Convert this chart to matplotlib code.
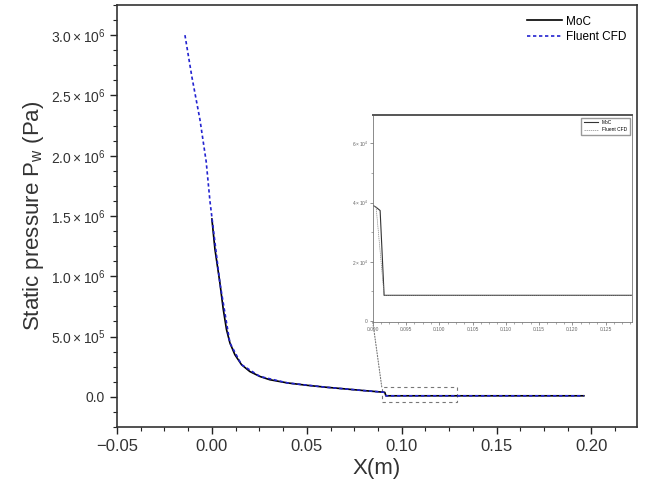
import matplotlib
matplotlib.use("Agg")
import matplotlib.pyplot as plt
from matplotlib.ticker import FuncFormatter, AutoMinorLocator
from matplotlib.patches import Rectangle, ConnectionPatch

plt.rcParams['font.family'] = ['Liberation Sans', 'DejaVu Sans']
plt.rcParams['mathtext.fontset'] = 'custom'
plt.rcParams['mathtext.rm'] = 'Liberation Sans'
plt.rcParams['mathtext.it'] = 'Liberation Sans:italic'
plt.rcParams['mathtext.bf'] = 'Liberation Sans:bold'

# ---- data ----
moc_x = [0.0, 0.0016, 0.0042, 0.006, 0.0077, 0.0095, 0.0121, 0.0156, 0.020, 0.0253,
         0.0305, 0.040, 0.050, 0.060, 0.070, 0.080, 0.0905, 0.0911, 0.0917, 0.120, 0.160, 0.196]
moc_y = [1.475e6, 1.225e6, 0.947e6, 0.725e6, 0.558e6, 0.447e6, 0.350e6, 0.267e6, 0.210e6, 0.169e6,
         0.142e6, 0.115e6, 0.096e6, 0.080e6, 0.066e6, 0.052e6, 0.0384e6, 0.0373e6, 0.0087e6, 0.0087e6, 0.0087e6, 0.0087e6]

cfd_x = [-0.0142, -0.0105, -0.0063, -0.003, -0.001, 0.0, 0.0042, 0.0095, 0.0156, 0.0253,
         0.040, 0.060, 0.080, 0.0905, 0.0917, 0.196]
cfd_y = [3.0e6, 2.65e6, 2.30e6, 1.95e6, 1.62e6, 1.49e6, 0.947e6, 0.447e6, 0.267e6, 0.169e6,
         0.115e6, 0.080e6, 0.052e6, 0.0384e6, 0.0087e6, 0.0087e6]

x_ticks = [-0.05, 0.00, 0.05, 0.10, 0.15, 0.20]
y_ticks = [0.0, 0.5e6, 1.0e6, 1.5e6, 2.0e6, 2.5e6, 3.0e6]
inset_x_ticks = [0.090, 0.095, 0.100, 0.105, 0.110, 0.115, 0.120, 0.125]
inset_y_ticks = [0, 2e4, 4e4, 6e4]
zoom_box = (0.0895, -4.0e4, 0.129, 8.3e4)  # x0, y0, x1, y1

moc_color = 'black'
cfd_color = '#2323d0'


def sci_fmt(v, pos):
    if v == 0:
        return '0.0'
    exp = 0
    m = abs(v)
    while m >= 10:
        m /= 10.0
        exp += 1
    s = '-' if v < 0 else ''
    return r'$%s%.1f\times10^{%d}$' % (s, m, exp)


def sci_fmt_int(v, pos):
    if v == 0:
        return '0'
    exp = 0
    m = abs(v)
    while m >= 10:
        m /= 10.0
        exp += 1
    return r'$%d\times10^{%d}$' % (round(m), exp)


fig = plt.figure(figsize=(6.45, 4.95), dpi=100)
ax = fig.add_axes([0.1814, 0.1374, 0.8062, 0.8525])

ax.plot(moc_x, moc_y, color=moc_color, lw=1.2, label='MoC', zorder=3)
ax.plot(cfd_x, cfd_y, color=cfd_color, lw=1.2, ls=(0, (2.0, 1.6)), label='Fluent CFD', zorder=4)

ax.set_xlim(-0.05, 0.224)
ax.set_ylim(-2.5e5, 3.25e6)
ax.set_xticks(x_ticks)
ax.set_yticks(y_ticks)
ax.xaxis.set_minor_locator(AutoMinorLocator(4))
ax.yaxis.set_minor_locator(AutoMinorLocator(4))
ax.xaxis.set_major_formatter(FuncFormatter(lambda v, p: ('%.2f' % v).replace('-', '\u2212')))
ax.yaxis.set_major_formatter(FuncFormatter(sci_fmt))
ax.tick_params(which='major', direction='out', length=5, width=1.0, colors='#222222',
               labelcolor='#333333')
ax.tick_params(axis='x', which='major', labelsize=12)
ax.tick_params(axis='y', which='major', labelsize=10)
ax.tick_params(which='minor', direction='out', length=3, width=0.8, colors='#222222')
for sp in ax.spines.values():
    sp.set_linewidth(1.2)
    sp.set_color('#333333')

ax.set_xlabel('X(m)', fontsize=16, color='#333333', labelpad=3)
ax.set_ylabel(r'Static pressure P$_{\rm w}$ (Pa)', fontsize=16, color='#333333', labelpad=3)

ax.legend(loc='upper right', frameon=False, fontsize=8.5, handlelength=3.0,
          handletextpad=0.3, labelspacing=0.3, borderaxespad=0.5)

# zoom box in main axes
bx0, by0, bx1, by1 = zoom_box
ax.add_patch(Rectangle((bx0, by0), bx1 - bx0, by1 - by0, fill=False, ls=(0, (3, 3)),
                       lw=0.8, edgecolor='#777777', zorder=2))

# inset
axin = fig.add_axes([0.578, 0.3495, 0.402, 0.418])
axin.plot(moc_x, moc_y, color='#333333', lw=0.8, label='MoC')
axin.plot(cfd_x, cfd_y, color='#888888', lw=0.5, ls=(0, (2, 1)), label='Fluent CFD')
axin.set_xlim(0.090, 0.129)
axin.set_ylim(-300, 6.95e4)
axin.set_xticks(inset_x_ticks)
axin.set_yticks(inset_y_ticks)
axin.xaxis.set_minor_locator(AutoMinorLocator(4))
axin.yaxis.set_minor_locator(AutoMinorLocator(2))
axin.xaxis.set_major_formatter(FuncFormatter(lambda v, p: '%.3f' % v))
axin.yaxis.set_major_formatter(FuncFormatter(sci_fmt_int))
axin.tick_params(which='major', direction='out', length=2, width=0.5, labelsize=3.5,
                 colors='#666666', pad=1.5)
axin.tick_params(which='minor', direction='out', length=1.2, width=0.4, colors='#666666')
for sp in axin.spines.values():
    sp.set_linewidth(0.6)
    sp.set_color('#777777')
axin.spines['top'].set_linewidth(1.4)
axin.spines['top'].set_color('#555555')
axin.legend(loc='upper right', fontsize=3.5, frameon=True, fancybox=False, edgecolor='#999999',
            handlelength=3, borderpad=0.5, framealpha=1)

con = ConnectionPatch(xyA=(bx0, by1), coordsA=ax.transData,
                      xyB=(0, 0), coordsB=axin.transAxes,
                      ls=(0, (1, 1.5)), lw=0.8, color='#777777')
fig.add_artist(con)

fig.savefig('out.png', dpi=100)
